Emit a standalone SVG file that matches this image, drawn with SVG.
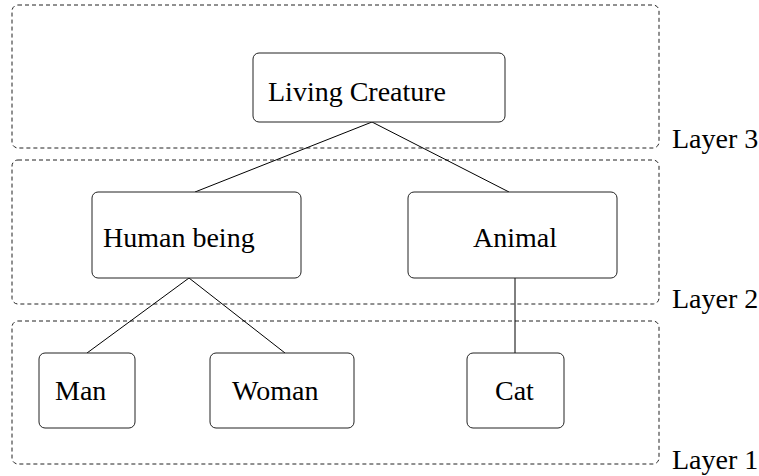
<svg xmlns="http://www.w3.org/2000/svg" width="759" height="476" viewBox="0 0 759 476">
  <style>
    .layer { fill: none; stroke: #222; stroke-width: 1; stroke-dasharray: 4 3; }
    .node { fill: #fff; stroke: #222; stroke-width: 1; }
    .edge { stroke: #000; stroke-width: 1; fill: none; }
  </style>
  <rect width="759" height="476" fill="#fff"/>

  <!-- layer frames: dashed rounded outlines with labels on the right -->
  <g id="layers">
    <rect class="layer" x="12" y="5" width="647" height="143" rx="6"/>
    <rect class="layer" x="12" y="160" width="647" height="144" rx="6"/>
    <rect class="layer" x="12" y="321" width="647" height="143" rx="6"/>
    <text x="672" y="148" font-family="Liberation Serif" font-size="28" fill="#000">Layer 3</text>
    <text x="672" y="308" font-family="Liberation Serif" font-size="28" fill="#000">Layer 2</text>
    <text x="672" y="469" font-family="Liberation Serif" font-size="28" fill="#000">Layer 1</text>
  </g>

  <!-- connectors -->
  <g id="edges">
    <line class="edge" x1="372" y1="122" x2="195" y2="192"/>
    <line class="edge" x1="372" y1="122" x2="509" y2="192"/>
    <line class="edge" x1="189" y1="278" x2="87" y2="353"/>
    <line class="edge" x1="189" y1="278" x2="285" y2="353"/>
    <line class="edge" x1="515" y1="278" x2="515" y2="353"/>
  </g>

  <!-- nodes -->
  <g id="living-creature">
    <rect class="node" x="253" y="53" width="252" height="69" rx="6"/>
    <text x="268" y="101" font-family="Liberation Serif" font-size="28" fill="#000">Living Creature</text>
  </g>
  <g id="human-being">
    <rect class="node" x="92" y="192" width="209" height="86" rx="6"/>
    <text x="103" y="247" font-family="Liberation Serif" font-size="28" fill="#000">Human being</text>
  </g>
  <g id="animal">
    <rect class="node" x="408" y="192" width="209" height="86" rx="6"/>
    <text x="473" y="247" font-family="Liberation Serif" font-size="28" fill="#000">Animal</text>
  </g>
  <g id="man">
    <rect class="node" x="39" y="353" width="96" height="75" rx="6"/>
    <text x="55" y="400" font-family="Liberation Serif" font-size="28" fill="#000">Man</text>
  </g>
  <g id="woman">
    <rect class="node" x="210" y="353" width="144" height="75" rx="6"/>
    <text x="232" y="400" font-family="Liberation Serif" font-size="28" fill="#000">Woman</text>
  </g>
  <g id="cat">
    <rect class="node" x="467" y="353" width="97" height="75" rx="6"/>
    <text x="495" y="400" font-family="Liberation Serif" font-size="28" fill="#000">Cat</text>
  </g>
</svg>
